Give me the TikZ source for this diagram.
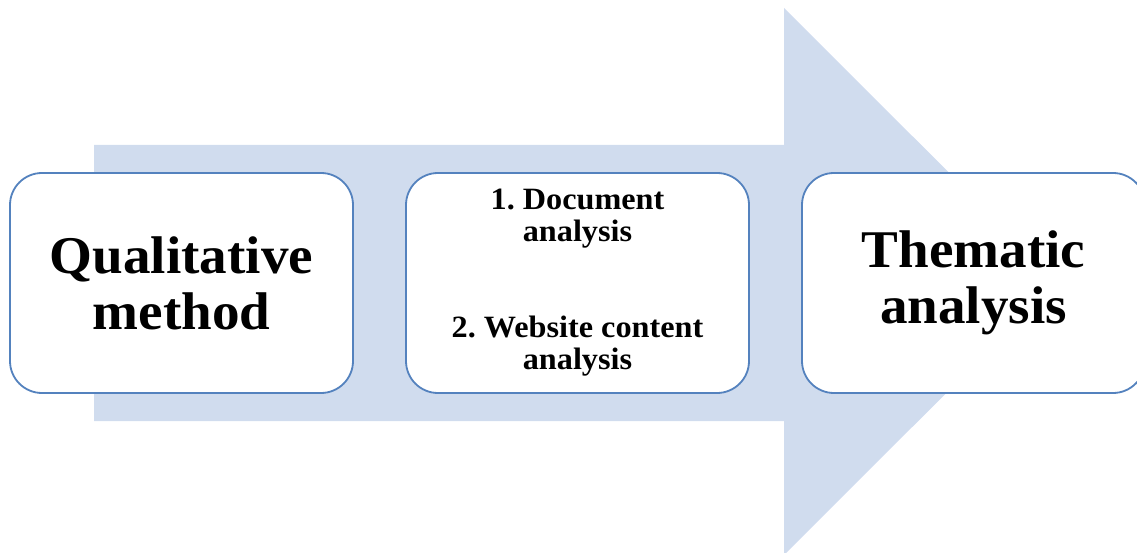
\documentclass[tikz,border=0pt]{standalone}
\usepackage{fontspec}
\setmainfont{Liberation Serif}[FakeStretch=1.04]
\definecolor{arrowfill}{RGB}{208,220,238}
\definecolor{boxline}{RGB}{84,130,190}
\begin{document}
\frenchspacing
\begin{tikzpicture}[x=1pt,y=-1pt,
  box/.style={draw=boxline, line width=1.8pt, fill=white, rounded corners=32pt,
    minimum width=343pt, minimum height=220pt, align=center, inner sep=0pt},
  bigtext/.style={font=\fontsize{53}{56}\selectfont\bfseries},
  smalltext/.style={font=\fontsize{31}{32}\selectfont\bfseries}]
\useasboundingbox (0,0) rectangle (1137,553);
\fill[arrowfill] (94,145) -- (784,145) -- (784,8) -- (1058,281.5) -- (784,555) -- (784,421) -- (94,421) -- cycle;
\node[box, bigtext] (q) at (181.5,283) {Qualitative\\method};
\node[box, smalltext] (d) at (577.5,283) {1. Document\\analysis\\[64pt]2. Website content\\analysis};
\node[box, bigtext] (t) at (973.5,283) {Thematic\\analysis};
\end{tikzpicture}
\end{document}
